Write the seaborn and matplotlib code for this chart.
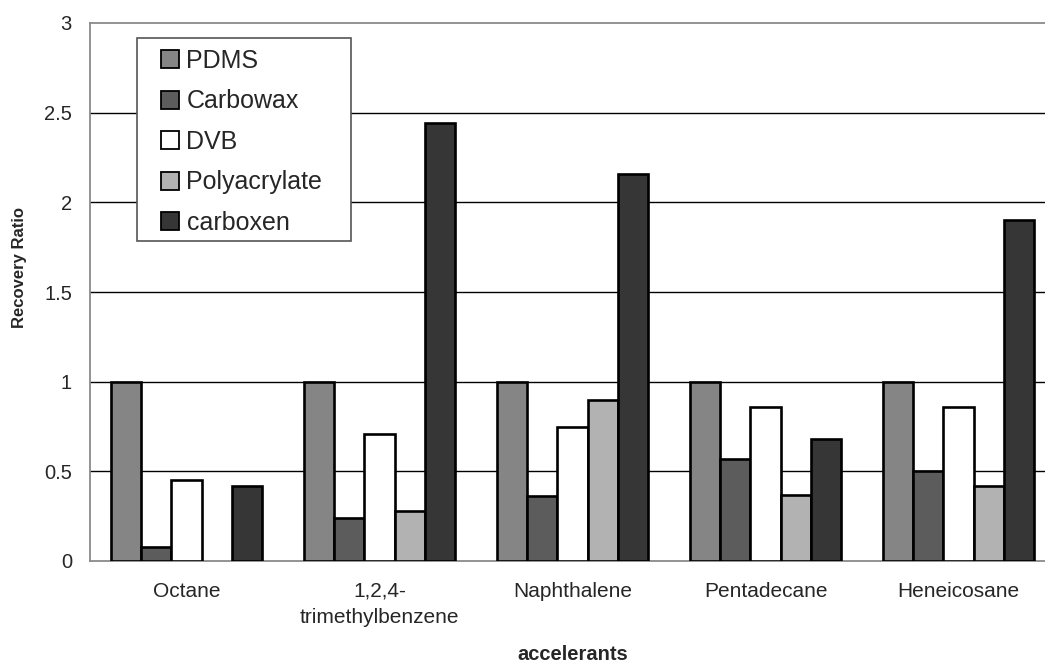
import numpy as np
import pandas as pd
import matplotlib
matplotlib.use("Agg")
import matplotlib.pyplot as plt
from matplotlib.patches import Rectangle
import seaborn as sns

# Recovery ratios of five accelerants for each SPME fibre coating
accelerants = ["Octane", "1,2,4-\ntrimethylbenzene", "Naphthalene", "Pentadecane", "Heneicosane"]
fibres = ["PDMS", "Carbowax", "DVB", "Polyacrylate", "carboxen"]

pdms = [1.00, 1.00, 1.00, 1.00, 1.00]
carbowax = [0.08, 0.24, 0.36, 0.57, 0.50]
dvb = [0.45, 0.71, 0.75, 0.86, 0.86]
polyacrylate = [np.nan, 0.28, 0.90, 0.37, 0.42]
carboxen = [0.42, 2.44, 2.16, 0.68, 1.90]

fibre_colors = ["#858585", "#5c5c5c", "#ffffff", "#b2b2b2", "#363636"]

series = [pdms, carbowax, dvb, polyacrylate, carboxen]
df = pd.DataFrame({
    "accelerants": np.tile(accelerants, len(fibres)),
    "fibre": np.repeat(fibres, len(accelerants)),
    "ratio": np.concatenate(series),
})

sns.set_style("white")
plt.rcParams["font.family"] = ["Liberation Sans", "DejaVu Sans"]

W, H = 1045, 666
fig = plt.figure(figsize=(W / 100, H / 100), dpi=100)
ax = fig.add_axes([90 / W, 105 / H, 965 / W, 538 / H])

sns.barplot(
    data=df, x="accelerants", y="ratio", hue="fibre",
    order=accelerants, hue_order=fibres, palette=fibre_colors,
    errorbar=None, width=0.78, edgecolor="black", linewidth=1.9,
    saturation=1, ax=ax, zorder=3,
)

ax.set_ylim(0, 3)
ax.set_xlim(-0.5, 4.5)
ax.set_yticks([0, 0.5, 1, 1.5, 2, 2.5, 3])
ax.set_yticklabels(["0", "0.5", "1", "1.5", "2", "2.5", "3"], fontsize=14.5)
for v in [0.5, 1, 1.5, 2, 2.5]:
    ax.axhline(v, color="black", linewidth=1.0, zorder=1)

ax.set_xticks(range(len(accelerants)))
ax.set_xticklabels(accelerants, fontsize=15, linespacing=1.45, va="top")
ax.set_xticks(np.arange(-0.5, 4.6, 1.0), minor=True)
ax.tick_params(axis="x", which="major", length=0, pad=15)
ax.tick_params(axis="x", which="minor", length=5, color="#777777", width=1, direction="out")
ax.tick_params(axis="y", length=5, color="#777777", width=1, direction="out", pad=8)

for side in ["left", "top", "bottom", "right"]:
    ax.spines[side].set_color("#8a8a8a")
    ax.spines[side].set_linewidth(1.3)

ax.set_xlabel("accelerants", fontsize=14.5, fontweight="bold", labelpad=13)
ax.set_ylabel("Recovery Ratio", fontsize=12, fontweight="bold")
ax.yaxis.set_label_coords(-63 / 965, (561 - 267) / 538)

# legend box with white fill, sitting over the gridlines
ax.add_patch(Rectangle((137 / W, 1 - 241 / H), 214 / W, 203 / H,
                       transform=fig.transFigure, facecolor="white",
                       edgecolor="#555555", linewidth=1.2, zorder=4,
                       clip_on=False))
leg = ax.legend(
    loc="upper left", bbox_to_anchor=(161 / W, 1 - 49 / H),
    bbox_transform=fig.transFigure, borderaxespad=0, borderpad=0,
    frameon=False, fontsize=18, handlelength=0.72, handleheight=0.72,
    handletextpad=0.3, labelspacing=0.66, title=None,
)
leg.set_zorder(5)
for h in leg.legend_handles:
    h.set_edgecolor("black")
    h.set_linewidth(1.3)

fig.savefig("out.png", dpi=100)
